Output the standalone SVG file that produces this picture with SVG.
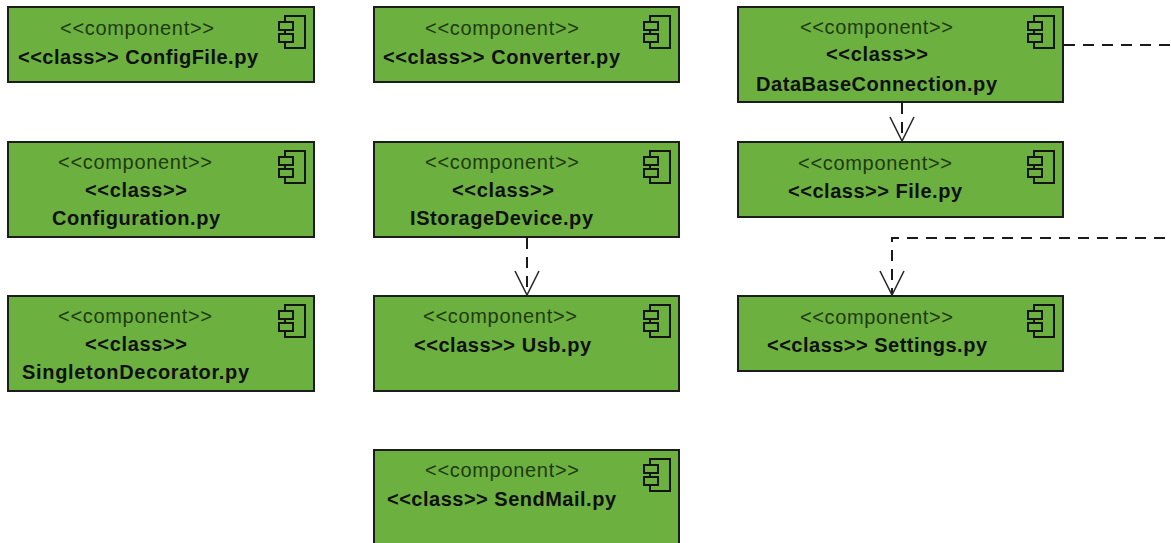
<svg xmlns="http://www.w3.org/2000/svg" width="1171" height="543" viewBox="0 0 1171 543">
<style>
.box{fill:#6cb03f;stroke:#1c1c1c;stroke-width:2}
.ic{fill:none;stroke:#141414;stroke-width:2}
.st{font-family:"Liberation Sans",Arial,sans-serif;font-size:20px;fill:#1f3a12}
.nm{font-family:"Liberation Sans",Arial,sans-serif;font-size:20px;font-weight:bold;fill:#101010}
.dash{fill:none;stroke:#1a1a1a;stroke-width:2;stroke-dasharray:11 8}
.head{fill:none;stroke:#2a2a2a;stroke-width:1.6}
</style>
<defs>
<g id="icon"><path class="ic" d="M6 6V0H26V32H6V26M6 14V18"/><rect class="ic" x="0" y="6" width="14" height="8"/><rect class="ic" x="0" y="18" width="14" height="8"/></g>
</defs>
<g id="connectors">
<path class="dash" d="M902 103V141"/><path class="head" d="M890 117L902 141L914 117"/>
<path class="dash" d="M527 238V295"/><path class="head" d="M515 271L527 295L539 271"/>
<path class="dash" d="M1165 238H892V295"/><path class="head" d="M880 271L892 295L904 271"/>
<path class="dash" d="M1064 45H1171"/>
</g>
<g id="configfile"><rect class="box" x="8" y="7" width="306" height="75"/><use href="#icon" x="279" y="16"/>
<text class="st" x="60" y="35" textLength="154">&lt;&lt;component&gt;&gt;</text><text class="nm" x="18" y="64" textLength="240">&lt;&lt;class&gt;&gt; ConfigFile.py</text></g>
<g id="configuration"><rect class="box" x="8" y="142" width="306" height="95"/><use href="#icon" x="279" y="151"/>
<text class="st" x="58" y="169" textLength="154">&lt;&lt;component&gt;&gt;</text><text class="nm" x="85" y="197" textLength="102">&lt;&lt;class&gt;&gt;</text><text class="nm" x="52" y="225" textLength="168">Configuration.py</text></g>
<g id="singleton"><rect class="box" x="8" y="296" width="306" height="95"/><use href="#icon" x="279" y="305"/>
<text class="st" x="58" y="323" textLength="154">&lt;&lt;component&gt;&gt;</text><text class="nm" x="85" y="351" textLength="102">&lt;&lt;class&gt;&gt;</text><text class="nm" x="22" y="379" textLength="227">SingletonDecorator.py</text></g>
<g id="converter"><rect class="box" x="374" y="7" width="305" height="75"/><use href="#icon" x="644" y="16"/>
<text class="st" x="425" y="35" textLength="154">&lt;&lt;component&gt;&gt;</text><text class="nm" x="383" y="64" textLength="237">&lt;&lt;class&gt;&gt; Converter.py</text></g>
<g id="istorage"><rect class="box" x="374" y="142" width="305" height="95"/><use href="#icon" x="644" y="151"/>
<text class="st" x="425" y="169" textLength="154">&lt;&lt;component&gt;&gt;</text><text class="nm" x="452" y="197" textLength="102">&lt;&lt;class&gt;&gt;</text><text class="nm" x="410" y="225" textLength="183">IStorageDevice.py</text></g>
<g id="usb"><rect class="box" x="374" y="296" width="305" height="95"/><use href="#icon" x="644" y="305"/>
<text class="st" x="423" y="323" textLength="154">&lt;&lt;component&gt;&gt;</text><text class="nm" x="414" y="352" textLength="177">&lt;&lt;class&gt;&gt; Usb.py</text></g>
<g id="sendmail"><rect class="box" x="374" y="450" width="305" height="110"/><use href="#icon" x="644" y="459"/>
<text class="st" x="425" y="477" textLength="154">&lt;&lt;component&gt;&gt;</text><text class="nm" x="387" y="506" textLength="229">&lt;&lt;class&gt;&gt; SendMail.py</text></g>
<g id="database"><rect class="box" x="738" y="7" width="325" height="95"/><use href="#icon" x="1028" y="16"/>
<text class="st" x="800" y="34" textLength="153">&lt;&lt;component&gt;&gt;</text><text class="nm" x="826" y="61" textLength="102">&lt;&lt;class&gt;&gt;</text><text class="nm" x="756" y="91" textLength="241">DataBaseConnection.py</text></g>
<g id="file"><rect class="box" x="738" y="142" width="325" height="75"/><use href="#icon" x="1028" y="151"/>
<text class="st" x="798" y="170" textLength="154">&lt;&lt;component&gt;&gt;</text><text class="nm" x="788" y="198" textLength="174">&lt;&lt;class&gt;&gt; File.py</text></g>
<g id="settings"><rect class="box" x="738" y="296" width="325" height="75"/><use href="#icon" x="1028" y="305"/>
<text class="st" x="800" y="324" textLength="153">&lt;&lt;component&gt;&gt;</text><text class="nm" x="767" y="352" textLength="220">&lt;&lt;class&gt;&gt; Settings.py</text></g>
</svg>
